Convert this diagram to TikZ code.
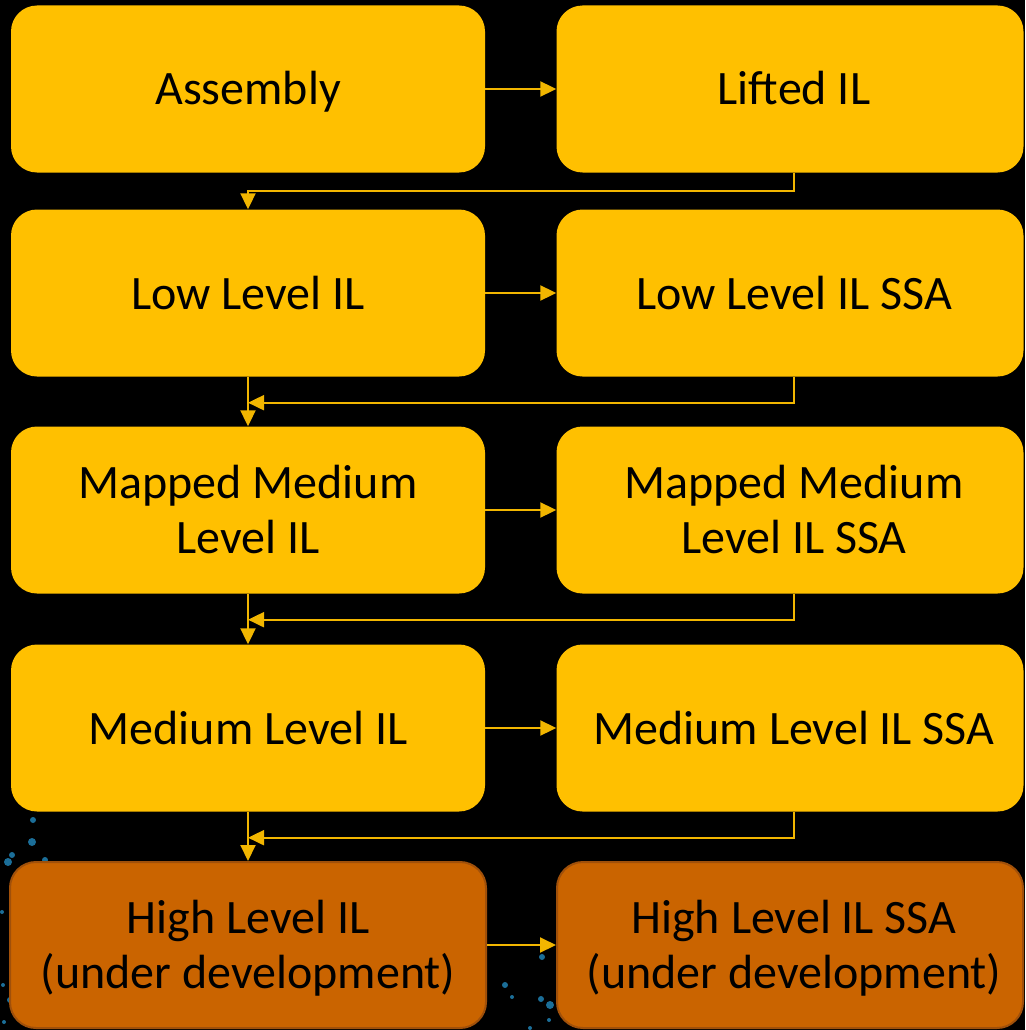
\documentclass[tikz,border=0pt]{standalone}
\usepackage{fontspec}
\setmainfont{Carlito}
\usetikzlibrary{arrows.meta}
\definecolor{stageyellow}{HTML}{FFC000}
\definecolor{stageorange}{HTML}{CA6400}
\definecolor{stageorangeline}{HTML}{A0500A}
\definecolor{linkcol}{HTML}{F2B600}
\definecolor{speck}{HTML}{1B6E98}
% line strut that keeps the capitals centred in the box
\newcommand\lnstrut{\rule[-11pt]{0pt}{54pt}}
% same, nudging the line a little to the right (right-hand column)
\newcommand\rlnstrut{\hspace*{8pt}\lnstrut}
\begin{document}
\begin{tikzpicture}[x=1pt,y=-1pt,
  stagebox/.style={rectangle, rounded corners=26pt, fill=stageyellow,
    minimum width=474pt, minimum height=167pt, inner sep=0pt,
    align=center, text=black, font=\fontsize{48}{55}\selectfont},
  wipbox/.style={stagebox, fill=stageorange, draw=stageorangeline, line width=2pt},
  link/.style={draw=linkcol, line width=2pt,
    -{Triangle[length=16pt,width=15pt]}}]
  % background
  \fill[black] (0,0) rectangle (1025,1030);
  \useasboundingbox (0,0) rectangle (1025,1030);

  % faint speckles in the lower part of the background
  \foreach \px/\py/\r in {33/820/3, 32/842/4, 12/855/3, 8/862/4, 45/860/3,
      2/912/2, 3/985/2, 10/1000/3, 4/1022/2, 25/1010/2,
      542/957/3, 505/985/3, 512/997/2, 541/999/3, 550/1005/4, 549/1020/2, 530/1028/2}
    \fill[speck] (\px,\py) circle (\r);

  % stages
  \node[stagebox] (asm)   at (248,89)  {\lnstrut Assembly};
  \node[stagebox, minimum width=467pt] (lift)  at (790,89)  {\rlnstrut Lifted IL};
  \node[stagebox] (llil)  at (248,293) {\lnstrut Low Level IL};
  \node[stagebox, minimum width=467pt] (llssa) at (790,293) {\rlnstrut Low Level IL SSA};
  \node[stagebox] (mmil)  at (248,510) {\lnstrut Mapped Medium\\\lnstrut Level IL};
  \node[stagebox, minimum width=467pt] (mmssa) at (790,510) {\rlnstrut Mapped Medium\\\rlnstrut Level IL SSA};
  \node[stagebox] (mlil)  at (248,728) {\lnstrut Medium Level IL};
  \node[stagebox, minimum width=467pt] (mlssa) at (790,728) {\rlnstrut Medium Level IL SSA};
  \node[wipbox, minimum width=476pt, minimum height=166pt]  (hlil)  at (248,945) {\lnstrut High Level IL\\\lnstrut (under development)};
  \node[wipbox, minimum width=466pt, minimum height=166pt] (hlssa) at (790,945) {\rlnstrut High Level IL SSA\\\rlnstrut (under development)};

  % each stage to its SSA form
  \draw[link] (asm.east)  -- (lift.west);
  \draw[link] (llil.east) -- (llssa.west);
  \draw[link] (mmil.east) -- (mmssa.west);
  \draw[link] (mlil.east) -- (mlssa.west);
  \draw[link] (hlil.east) -- (hlssa.west);

  % down the left column
  \draw[link] (llil.south) -- (mmil.north);
  \draw[link] (mmil.south) -- (mlil.north);
  \draw[link] (mlil.south) -- (hlil.north);

  % back from the right column
  \draw[link] ([xshift=4pt]lift.south)  |- ([yshift=-18pt]lift.south -| asm.south) -- (llil.north);
  \draw[link] ([xshift=4pt]llssa.south) |- ([yshift=-26pt]llssa.south -| llil.south);
  \draw[link] ([xshift=4pt]mmssa.south) |- ([yshift=-26pt]mmssa.south -| mmil.south);
  \draw[link] ([xshift=4pt]mlssa.south) |- ([yshift=-26pt]mlssa.south -| mlil.south);
\end{tikzpicture}
\end{document}
